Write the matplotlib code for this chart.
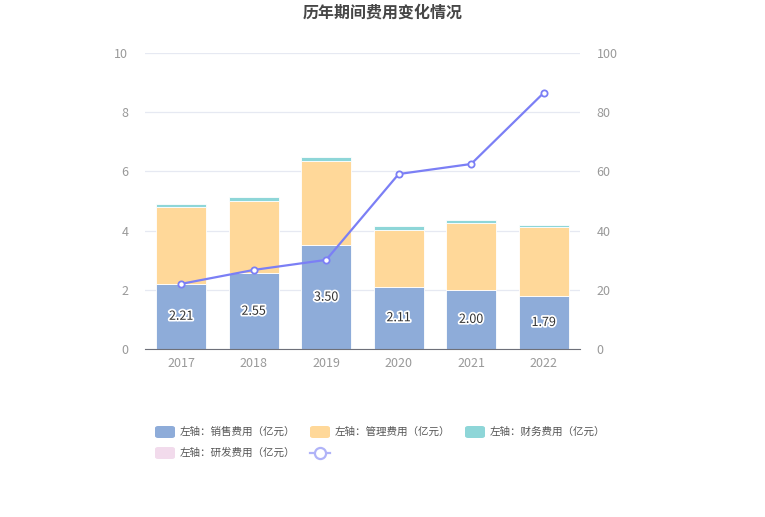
import matplotlib

matplotlib.use("Agg")

import matplotlib.pyplot as plt
import matplotlib.patheffects as pe
from matplotlib.patches import FancyBboxPatch
from matplotlib.lines import Line2D
import numpy as np

plt.rcParams["font.family"] = ["Noto Sans CJK SC", "DejaVu Sans"]

years = ["2017", "2018", "2019", "2020", "2021", "2022"]
sales = [2.21, 2.55, 3.50, 2.11, 2.00, 1.79]
admin = [2.59, 2.45, 2.85, 1.91, 2.26, 2.33]
finance = [0.10, 0.14, 0.14, 0.13, 0.10, 0.07]
rnd = [0.0, 0.0, 0.0, 0.0, 0.0, 0.0]
ratio = [22.0, 26.7, 30.1, 59.1, 62.5, 86.5]

legend_labels = ["左轴：销售费用（亿元）", "左轴：管理费用（亿元）", "左轴：财务费用（亿元）",
                 "左轴：研发费用（亿元）", ""]

C_SALES = "#8eacd9"
C_ADMIN = "#ffd899"
C_FIN = "#8ed6d8"
C_RND = "#f2dbec"
C_LINE = "#7b7ff5"
GRID = "#e6e9f2"
TICK = "#999999"

fig = plt.figure(figsize=(7.65, 5.17), dpi=100)
ax = fig.add_axes([0.1895, 0.325, 0.5685, 0.5725])
ax2 = ax.twinx()

x = np.arange(len(years))
w = 0.69
s = np.array(sales)
a = np.array(admin)
f = np.array(finance)
ax.bar(x, s, w, color=C_SALES, edgecolor="white", linewidth=0.6, zorder=2)
ax.bar(x, a, w, bottom=s, color=C_ADMIN, edgecolor="white", linewidth=0.6, zorder=2)
ax.bar(x, f, w, bottom=s + a, color=C_FIN, edgecolor="white", linewidth=0.6, zorder=2)
ax.bar(x, rnd, w, bottom=s + a + f, color=C_RND, linewidth=0, zorder=2)

for xi, v in zip(x, sales):
    ax.text(xi, v / 2, f"{v:.2f}", ha="center", va="center", fontsize=9,
            color="#333333", zorder=5,
            path_effects=[pe.withStroke(linewidth=2.5, foreground="white")])

ax2.plot(x, ratio, color=C_LINE, lw=1.6, marker="o", ms=4.5,
         mfc="white", mec=C_LINE, mew=1.3, zorder=6)

ax.set_xlim(-0.5, len(years) - 0.5)
ax.set_ylim(0, 10)
ax2.set_ylim(0, 100)
ax.set_yticks(range(0, 11, 2))
ax2.set_yticks(range(0, 101, 20))
ax.set_xticks(x)
ax.set_xticklabels(years)

ax.grid(axis="y", color=GRID, lw=0.9, zorder=0)
ax.set_axisbelow(True)
for a_ in (ax, ax2):
    for sp in ("top", "left", "right", "bottom"):
        a_.spines[sp].set_visible(False)
ax.spines["bottom"].set_visible(True)
ax.spines["bottom"].set_color("#6e7079")
ax.tick_params(axis="y", length=0, labelsize=9, labelcolor=TICK, pad=12)
ax2.tick_params(axis="y", length=0, labelsize=9, labelcolor=TICK, pad=12)
ax.tick_params(axis="x", length=0, labelsize=9, labelcolor=TICK, pad=6)

fig.text(0.5, 0.975, "历年期间费用变化情况", ha="center", va="center",
         fontsize=11.5, fontweight="bold", color="#464646")

# legend, drawn by hand to mimic the echarts layout
W, H = 765, 517
items = [(155, 432, C_SALES), (310, 432, C_ADMIN), (465, 432, C_FIN), (155, 453, C_RND)]
for (px, py, col), lab in zip(items, legend_labels):
    fig.patches.append(FancyBboxPatch((px / W, (H - py - 6) / H), 20 / W, 12 / H,
                                      boxstyle="round,pad=0,rounding_size=0.004",
                                      transform=fig.transFigure, color=col, lw=0))
    fig.text((px + 25) / W, (H - py) / H, lab, ha="left", va="center",
             fontsize=7.6, color="#555555")
fig.lines.append(Line2D([310 / W, 330 / W], [(H - 453) / H] * 2, transform=fig.transFigure,
                        color="#b0b3f8", lw=1.6))
fig.lines.append(Line2D([320 / W], [(H - 453) / H], transform=fig.transFigure,
                        color="#b0b3f8", marker="o", ms=8, mfc="white", mec="#b0b3f8", mew=1.6))

fig.savefig("out.png", dpi=100)
